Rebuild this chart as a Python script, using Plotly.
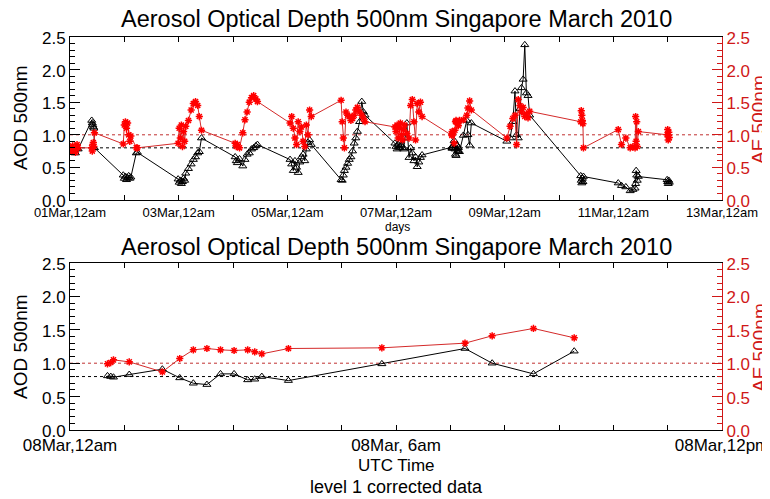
import plotly.graph_objects as go

# ---------------- data ----------------
# Top panel: days since 01 Mar 2010 00:00 UTC, AOD 500nm and AE 500nm
days_a = [0.01, 0.03, 0.05, 0.08, 0.10, 0.13, 0.15,
          0.40, 0.41, 0.42, 0.43, 0.44, 0.45,
          0.98, 1.00, 1.02, 1.04, 1.06, 1.08, 1.10, 1.12,
          1.22, 1.24,
          1.99, 2.01, 2.03, 2.05, 2.07, 2.09, 2.11,
          2.13, 2.18, 2.23, 2.27, 2.31, 2.35, 2.38, 2.42,
          3.04, 3.06, 3.08, 3.12, 3.18, 3.22, 3.26, 3.30, 3.34, 3.38, 3.42, 3.45,
          4.05, 4.08, 4.11, 4.14, 4.17, 4.20, 4.23, 4.26, 4.29, 4.32, 4.35, 4.38, 4.41, 4.44,
          4.99, 5.01, 5.03, 5.05, 5.08, 5.11, 5.14, 5.17, 5.20, 5.23, 5.26, 5.29, 5.33, 5.37, 5.40, 5.43,
          5.98, 6.00, 6.02, 6.04, 6.06, 6.08, 6.10, 6.12, 6.14, 6.16, 6.20, 6.24, 6.27, 6.30, 6.33, 6.36,
          6.39, 6.42, 6.45, 6.48]
aod_a = [0.78, 0.74, 0.80, 0.76, 0.72, 0.79, 0.78,
         1.22, 1.18, 1.15, 1.12, 1.10, 0.80,
         0.38, 0.33, 0.36, 0.31, 0.34, 0.37, 0.33, 0.35,
         0.72, 0.73,
         0.32, 0.27, 0.30, 0.25, 0.28, 0.33, 0.30,
         0.41, 0.48, 0.55, 0.62, 0.66, 0.72, 0.74, 0.95,
         0.66, 0.60, 0.57, 0.63, 0.52, 0.62, 0.70, 0.72, 0.78, 0.80, 0.83, 0.85,
         0.62, 0.55, 0.45, 0.60, 0.50, 0.42, 0.58, 0.66, 0.70, 0.60, 0.78, 0.88, 0.92, 0.85,
         0.31, 0.30, 0.38, 0.45, 0.50, 0.56, 0.62, 0.66, 0.75, 0.87, 0.95, 1.05, 1.20, 1.51, 1.35, 1.30,
         0.87, 0.82, 0.78, 0.85, 0.80, 0.90, 0.84, 0.80, 0.78, 0.95, 1.18, 0.65, 0.80, 0.72, 0.60, 0.66,
         0.51, 0.58, 0.65, 0.69]
ae_a = [0.80, 0.74, 0.83, 0.77, 0.73, 0.85, 0.80,
        0.80, 0.75, 0.85, 0.88, 0.82, 1.03,
        0.86, 1.15, 1.20, 1.10, 1.18, 1.00, 0.90, 0.98,
        0.80, 0.80,
        0.87, 1.10, 0.95, 1.15, 0.82, 1.05, 0.90,
        1.13, 1.22, 1.38, 1.48, 1.51, 1.45, 1.28, 1.07,
        0.87, 0.82, 0.85, 0.80, 1.03, 1.23, 1.35, 1.50, 1.57, 1.60, 1.55, 1.51,
        1.18, 1.28, 1.10, 0.95, 0.85, 1.20, 1.05, 1.12, 0.90, 0.82, 1.15, 1.00, 1.38, 1.28,
        1.53, 1.20, 0.95, 0.80, 1.35, 1.30, 1.28, 1.22, 1.25, 1.30, 1.38, 1.42, 1.35, 1.30, 1.25, 1.20,
        1.12, 1.05, 1.15, 0.95, 1.10, 1.18, 1.00, 0.92, 1.08, 1.15, 1.02, 0.95, 1.45, 1.54, 1.20, 0.92,
        1.48, 1.35, 1.50, 1.28]

# 08 Mar 2010 (bottom panel): hours UTC
hours_08 = [0.69, 0.75, 0.80, 1.09, 1.70, 2.02, 2.27, 2.52, 2.77, 3.02, 3.27, 3.40, 3.53, 4.02,
            5.74, 7.27, 7.77, 8.53, 9.28]
aod_08 = [0.81, 0.80, 0.79, 0.83, 0.91, 0.78, 0.70, 0.68, 0.84, 0.84, 0.75, 0.76, 0.80, 0.74,
          0.99, 1.22, 1.00, 0.84, 1.18]
ae_08 = [0.99, 1.01, 1.05, 1.02, 0.87, 1.07, 1.20, 1.22, 1.20, 1.19, 1.20, 1.17, 1.14, 1.22,
         1.23, 1.30, 1.41, 1.52, 1.38]
day_08_offset = 7.0

days_b = [8.04, 8.10, 8.15, 8.19, 8.22, 8.25, 8.28, 8.31, 8.34, 8.37, 8.40, 8.43, 8.46,
          9.40, 9.41, 9.42, 9.43, 9.44, 9.45,
          10.09, 10.15, 10.23, 10.31, 10.36, 10.40, 10.41, 10.42, 10.43, 10.44, 10.46,
          10.99, 11.00, 11.01, 11.02, 11.03]
aod_b = [0.90, 0.95, 1.20, 1.67, 1.00, 0.95, 1.40, 1.72, 1.85, 2.38, 1.64, 1.60, 1.30,
         0.37, 0.30, 0.26, 0.33, 0.28, 0.36,
         0.26, 0.22, 0.20, 0.14, 0.16, 0.18, 0.25, 0.45, 0.38, 0.30, 0.36,
         0.31, 0.28, 0.25, 0.30, 0.27]
ae_b = [0.95, 1.13, 1.25, 1.30, 0.85, 1.54, 1.45, 1.35, 1.42, 1.28, 1.32, 1.26, 1.36,
        1.20, 1.37, 1.30, 1.22, 1.17, 0.80,
        1.08, 0.85, 0.95, 0.80, 0.82, 0.80, 1.28, 0.90, 1.20, 0.82, 1.05,
        1.00, 1.08, 0.92, 1.04, 0.96]

# Tick labels
top_tick_vals = list(range(0, 13))
top_tick_text = ["01Mar,12am", "", "03Mar,12am", "", "05Mar,12am", "", "07Mar,12am", "",
                 "09Mar,12am", "", "11Mar,12am", "", "13Mar,12am"]
bot_tick_vals = list(range(0, 13))
bot_tick_text = ["08Mar,12am", "", "", "", "", "", "08Mar, 6am", "", "", "", "", "", "08Mar,12pm"]

aod_ref = 0.8
ae_ref = 1.0
title_text = "Aerosol Optical Depth 500nm Singapore March 2010"

# ---------------- build ----------------
top_days = days_a + [day_08_offset + h / 24.0 for h in hours_08] + days_b
top_aod = aod_a + aod_08 + aod_b
top_ae = ae_a + ae_08 + ae_b

BLACK = "#000000"
RED_AX = "#d01818"
RED_LINE = "#d42a2a"
RED_MK = "#ff0000"
FONT = "Liberation Sans"

aod_marker = dict(symbol="triangle-up-open", size=7, color=BLACK, line=dict(color=BLACK, width=1))
ae_marker = dict(symbol="asterisk-open", size=6, color=RED_MK, line=dict(color=RED_MK, width=1.5))

fig = go.Figure()
fig.add_trace(go.Scatter(x=top_days, y=top_aod, mode="lines+markers", xaxis="x", yaxis="y",
                         line=dict(color=BLACK, width=1), marker=aod_marker))
fig.add_trace(go.Scatter(x=top_days, y=top_ae, mode="lines+markers", xaxis="x", yaxis="y2",
                         line=dict(color=RED_LINE, width=1), marker=ae_marker))
fig.add_trace(go.Scatter(x=hours_08, y=aod_08, mode="lines+markers", xaxis="x2", yaxis="y3",
                         line=dict(color=BLACK, width=1), marker=aod_marker))
fig.add_trace(go.Scatter(x=hours_08, y=ae_08, mode="lines+markers", xaxis="x2", yaxis="y4",
                         line=dict(color=RED_LINE, width=1), marker=ae_marker))

# page body has an 8px default margin: figure is 8px smaller, window coords used below
OFF = 8
W, H = 770 - OFF, 499 - OFF
L, R, T, B = 70 - OFF, 48, 37 - OFF, 69
ph = H - T - B
pw = W - L - R


def py(pix):
    return (H - B - (pix - OFF)) / ph


def px(pix):
    return ((pix - OFF) - L) / pw


top_dom = [py(200), 1.0]
bot_dom = [0.0, py(263)]


def xax(anchor, vals, text, size):
    return dict(anchor=anchor, domain=[0, 1], range=[0, 12], tickmode="array", tickvals=vals,
                ticktext=text, ticks="inside", ticklen=5, tickcolor=BLACK, showline=True,
                linecolor=BLACK, linewidth=1, mirror="ticks", showgrid=False, zeroline=False,
                tickfont=dict(size=size, color=BLACK, family=FONT))


def yax(anchor, dom, color, side="left", overlay=None):
    d = dict(anchor=anchor, range=[0, 2.5], tickmode="linear", tick0=0, dtick=0.5,
             tickformat=".1f", ticks="inside", ticklen=10, tickcolor=color, showline=True,
             linecolor=color, linewidth=1, showgrid=False, zeroline=False, side=side,
             ticklabelshift=1,
             minor=dict(dtick=0.1, ticks="inside", ticklen=5, tickcolor=color, showgrid=False),
             tickfont=dict(size=17, color=color, family=FONT))
    if overlay:
        d["overlaying"] = overlay
    else:
        d["domain"] = dom
    return d


fig.update_layout(
    width=W, height=H,
    margin=dict(l=L, r=R, t=T, b=B, autoexpand=False),
    paper_bgcolor="white", plot_bgcolor="white",
    showlegend=False,
    font=dict(family=FONT, color=BLACK),
    xaxis=xax("y", top_tick_vals, top_tick_text, 13),
    yaxis=yax("x", top_dom, BLACK),
    yaxis2=yax("x", None, RED_AX, side="right", overlay="y"),
    xaxis2=xax("y3", bot_tick_vals, bot_tick_text, 17),
    yaxis3=yax("x2", bot_dom, BLACK),
    yaxis4=yax("x2", None, RED_AX, side="right", overlay="y3"),
)

shapes = []
for xr, yr, val, col in [("x domain", "y", aod_ref, BLACK), ("x domain", "y2", ae_ref, "#c03030"),
                         ("x2 domain", "y3", aod_ref, BLACK), ("x2 domain", "y4", ae_ref, "#c03030")]:
    shapes.append(dict(type="line", xref=xr, yref=yr, x0=0, x1=1, y0=val, y1=val,
                       line=dict(color=col, width=1, dash="dot"), layer="below"))
fig.update_layout(shapes=shapes)


def ann(text, x, y, size, color=BLACK, angle=0):
    return dict(text=text, x=x, y=y, xref="paper", yref="paper", showarrow=False,
                xanchor="center", yanchor="middle", textangle=angle,
                font=dict(size=size, color=color, family=FONT))


fig.update_layout(annotations=[
    ann(title_text, px(396), py(19), 23.5),
    ann(title_text, px(396), py(247), 23.5),
    ann("days", px(397), py(227), 12),
    ann("UTC Time", px(396), py(465), 17),
    ann("level 1 corrected data", px(396), py(487), 18),
    ann("AOD 500nm", px(20), py(118), 19, angle=-90),
    ann("AOD 500nm", px(20), py(347), 19, angle=-90),
    ann("AE 500nm", px(759), py(120), 19, RED_AX, angle=-90),
    ann("AE 500nm", px(759), py(348), 19, RED_AX, angle=-90),
])

fig.write_html("out.html")
